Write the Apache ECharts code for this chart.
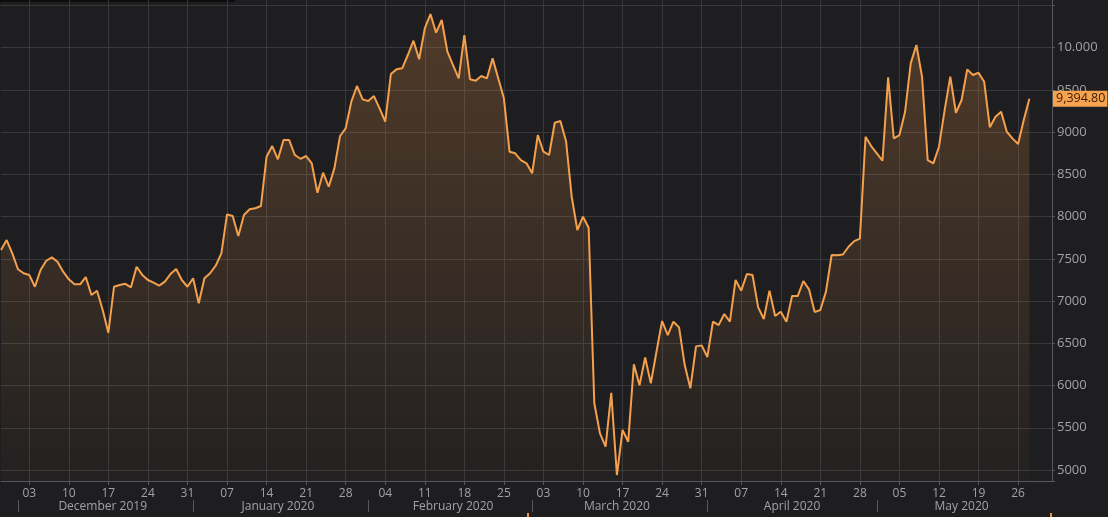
<!DOCTYPE html>
<html>
<head>
<meta charset="utf-8">
<script src="https://cdn.jsdelivr.net/npm/echarts@6/dist/echarts.min.js"></script>
<style>
html,body{margin:0;padding:0;background:#1e1e20;}
#c{width:1108px;height:517px;}
</style>
</head>
<body>
<div id="c"></div>
<script>
// ---- data ----
const startDate = [2019, 10, 28];   // 28 Nov 2019 (UTC, month 0-based)
const dayCount = 187;               // axis runs to 1 Jun 2020
const prices = [
  7605, 7723, 7566, 7377, 7330, 7310, 7170, 7368, 7478, 7518,
  7466, 7348, 7258, 7199, 7199, 7285, 7072, 7123, 6894, 6625,
  7170, 7190, 7205, 7163, 7407, 7310, 7250, 7218, 7183, 7230,
  7321, 7380, 7250, 7170, 7270, 6974, 7270, 7330, 7419, 7566,
  8027, 8007, 7771, 8019, 8087, 8099, 8126, 8710, 8836, 8679,
  8907, 8907, 8730, 8685, 8718, 8631, 8283, 8520, 8354, 8572,
  8955, 9046, 9361, 9547, 9389, 9369, 9428, 9282, 9124, 9689,
  9744, 9756, 9914, 10083, 9863, 10230, 10399, 10178, 10328, 9953,
  9795, 9638, 10150, 9626, 9609, 9665, 9638, 9874, 9638, 9401,
  8769, 8750, 8670, 8631, 8513, 8966, 8769, 8730, 9112, 9132,
  8893, 8236, 7842, 7999, 7869, 5790, 5434, 5276, 5915, 4941,
  5474, 5335, 6251, 6004, 6333, 6026, 6400, 6764, 6598, 6756,
  6689, 6243, 5967, 6464, 6476, 6338, 6756, 6716, 6847, 6756,
  7250, 7124, 7321, 7309, 6926, 6788, 7124, 6823, 6874, 6756,
  7060, 7060, 7238, 7139, 6870, 6894, 7112, 7546, 7542, 7552,
  7644, 7710, 7740, 8946, 8836, 8750, 8662, 9650, 8927, 8966,
  9242, 9815, 10032, 9657, 8670, 8631, 8828, 9262, 9657, 9230,
  9381, 9744, 9677, 9704, 9597, 9058, 9183, 9242, 9005, 8927,
  8860, 9144, 9394.80
];
const lastPriceLabel = '9,394.80';
const monthNames = ['January','February','March','April','May','June','July','August','September','October','November','December'];
const yTickLabels = {10000: '10.000'};

// ---- build categories ----
const categories = [];
for (let i = 0; i < dayCount; i++) {
  const d = new Date(Date.UTC(startDate[0], startDate[1], startDate[2] + i));
  categories.push(d.toISOString().slice(0, 10));
}
const dow = v => new Date(v + 'T00:00:00Z').getUTCDay();
const isTue = (i, v) => dow(v) === 2;
const isMonthStart = (i, v) => v.slice(8) === '01' && i < dayCount - 1;
const isMonthMid = (i, v) => v.slice(8) === '16';

const txt = '#a2a2a4';
const axisCol = '#58585b';
const gridCol = '#38383b';
const font = 'Open Sans';

const staticGraphics = [
  {type: 'rect', left: 0, top: 0, shape: {width: 235, height: 2}, style: {fill: '#0c0c0d'}, silent: true},
  {type: 'rect', left: 527, top: 513, shape: {width: 2, height: 4}, style: {fill: '#e8944a'}, silent: true},
  {type: 'rect', left: 1050, top: 513, shape: {width: 2, height: 4}, style: {fill: '#e8944a'}, silent: true}
];

const chart = echarts.init(document.getElementById('c'), null, {renderer: 'canvas'});
chart.setOption({
  backgroundColor: '#1e1e20',
  animation: false,
  grid: {left: 1, right: 56, top: -1, bottom: 36, containLabel: false, outerBoundsMode: 'none'},
  xAxis: [
    {
      type: 'category', data: categories, boundaryGap: false,
      axisLine: {show: true, lineStyle: {color: axisCol}},
      axisTick: {show: true, interval: isTue, length: 4, lineStyle: {color: axisCol}},
      axisLabel: {interval: isTue, formatter: v => v.slice(8, 10), color: txt, fontSize: 12, fontFamily: font, margin: 7, hideOverlap: false},
      splitLine: {show: true, interval: isTue, lineStyle: {color: gridCol, width: 1}}
    },
    {
      type: 'category', data: categories, boundaryGap: false, position: 'bottom', offset: 19,
      axisLine: {show: false},
      axisTick: {show: true, interval: isMonthStart, length: 12, lineStyle: {color: axisCol}},
      axisLabel: {interval: isMonthMid, formatter: v => monthNames[+v.slice(5, 7) - 1] + ' ' + v.slice(0, 4), color: txt, fontSize: 12, fontFamily: font, margin: 1, hideOverlap: false},
      splitLine: {show: false}
    }
  ],
  yAxis: {
    type: 'value', position: 'right', min: 4870, max: 10577, splitNumber: 11, scale: true,
    axisLine: {show: true, lineStyle: {color: axisCol}},
    axisTick: {show: true, length: 3, lineStyle: {color: axisCol}},
    axisLabel: {
      color: txt, fontSize: 13, fontFamily: font, margin: 5,
      formatter: v => {
        const r = Math.round(v);
        if (r % 500 !== 0 || r > 10000 || r < 5000) return '';
        return yTickLabels[r] || String(r);
      }
    },
    splitLine: {show: true, lineStyle: {color: gridCol, width: 1}}
  },
  series: [{
    type: 'line', data: prices, xAxisIndex: 0, symbol: 'none', smooth: false,
    lineStyle: {color: '#f4a04c', width: 2},
    areaStyle: {
      origin: 'start',
      color: new echarts.graphic.LinearGradient(0, 0, 0, 1, [
        {offset: 0, color: 'rgba(240,150,70,0.34)'},
        {offset: 1, color: 'rgba(240,150,70,0.03)'}
      ])
    }
  }],
  graphic: staticGraphics
});

// last-price tag on the right axis, positioned through the value axis
const lastY = chart.convertToPixel({yAxisIndex: 0}, prices[prices.length - 1]);
const axisX = chart.convertToPixel({xAxisIndex: 0}, categories[categories.length - 1]);
chart.setOption({
  graphic: staticGraphics.concat([{
    type: 'text', silent: true, z: 100,
    x: axisX + 1, y: lastY,
    style: {
      text: lastPriceLabel, fill: '#3a1d05', font: '12.5px "Open Sans"',
      verticalAlign: 'middle', align: 'left',
      backgroundColor: '#f6a24e', padding: [2, 2, 1, 3]
    }
  }])
});
</script>
</body>
</html>
